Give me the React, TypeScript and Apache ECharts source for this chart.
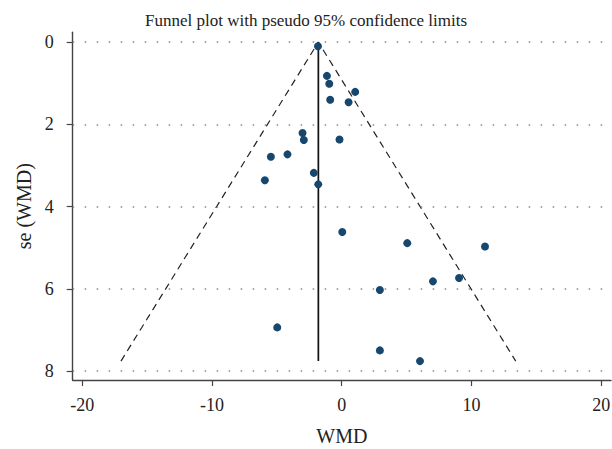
import React, { useEffect, useRef } from "react";
import * as echarts from "echarts";

// Study effect sizes (WMD) and their standard errors
const wmd = [-1.83, -1.14, -0.96, 1.04, -0.89, 0.53, -3.02, -2.92, -0.17, -4.18, -5.46, -2.15, -5.92, -1.81, 0.04, 2.94, -4.97, 2.94, 5.05, 11.04, 7.03, 9.04, 6.03];
const seWmd = [0.10, 0.82, 1.01, 1.21, 1.40, 1.46, 2.21, 2.38, 2.37, 2.73, 2.79, 3.18, 3.36, 3.46, 4.62, 6.03, 6.94, 7.50, 4.89, 4.97, 5.82, 5.74, 7.76];
const pooled = -1.8;
const xTicks = [-20, -10, 0, 10, 20];
const yTicks = [0, 2, 4, 6, 8];
const title = "Funnel plot with pseudo 95% confidence limits";

const FONT = "Liberation Serif";

export default function App() {
  const ref = useRef<HTMLDivElement>(null);
  useEffect(() => {
    if (!ref.current) return;
    const chart = echarts.init(ref.current, undefined, { renderer: "svg" });
    const maxSe = Math.max(...seWmd);
    const points = wmd.map((x, i) => [x, seWmd[i]]);
    const funnel = [
      [pooled - 1.96 * maxSe, maxSe],
      [pooled, 0],
      [pooled + 1.96 * maxSe, maxSe],
    ];
    const vline = [
      [pooled, 0],
      [pooled, maxSe],
    ];
    const axisColor = "#444";
    chart.setOption({
      animation: false,
      backgroundColor: "#ffffff",
      title: {
        text: title,
        left: "center",
        top: 7,
        textStyle: { fontFamily: FONT, fontSize: 17, fontWeight: "normal", color: "#222" },
      },
      grid: { left: 72.7, right: 1, top: 32.3, bottom: 69, containLabel: false, outerBoundsMode: "none" },
      xAxis: {
        type: "value",
        min: -20.73,
        max: 20.75,
        name: "WMD",
        nameLocation: "middle",
        nameGap: 46,
        nameTextStyle: { fontFamily: FONT, fontSize: 20, color: "#222", lineHeight: 20 },
        axisLine: { show: true, onZero: false, lineStyle: { color: axisColor, width: 1.4 } },
        axisTick: { show: true, length: 6, customValues: xTicks, lineStyle: { color: axisColor, width: 1.2 } },
        axisLabel: {
          customValues: xTicks,
          margin: 16,
          fontFamily: FONT,
          fontSize: 18,
          lineHeight: 18,
          color: "#222",
        },
        splitLine: { show: false },
      },
      yAxis: {
        type: "value",
        inverse: true,
        min: -0.24,
        max: 8.22,
        name: "se (WMD)",
        nameLocation: "middle",
        nameGap: 31,
        nameRotate: 90,
        nameTextStyle: { fontFamily: FONT, fontSize: 20, color: "#222", lineHeight: 20 },
        axisLine: { show: true, onZero: false, lineStyle: { color: axisColor, width: 1.4 } },
        axisTick: { show: true, length: 6, customValues: yTicks, lineStyle: { color: axisColor, width: 1.2 } },
        axisLabel: {
          customValues: yTicks,
          margin: 19,
          fontFamily: FONT,
          fontSize: 18,
          color: "#222",
        },
        splitLine: { show: false },
      },
      series: [
        {
          type: "line",
          data: funnel,
          symbol: "none",
          silent: true,
          lineStyle: { color: "#222", width: 1.2, type: [7, 5] },
          z: 2,
          markLine: {
            silent: true,
            symbol: "none",
            label: { show: false },
            lineStyle: { color: "#888", width: 1.5, type: [1.5, 10.5] },
            data: yTicks.map((v) => ({ yAxis: v })),
          },
        },
        {
          type: "line",
          data: vline,
          symbol: "none",
          silent: true,
          lineStyle: { color: "#111", width: 1.7, type: "solid" },
          z: 3,
        },
        {
          type: "scatter",
          data: points,
          symbol: "circle",
          symbolSize: 8,
          itemStyle: { color: "#15476f", opacity: 1 },
          z: 5,
        },
      ],
    });
    return () => chart.dispose();
  }, []);
  return (
    <div
      ref={ref}
      style={{ position: "fixed", left: 0, top: 0, width: 612, height: 449, background: "#fff" }}
    />
  );
}
